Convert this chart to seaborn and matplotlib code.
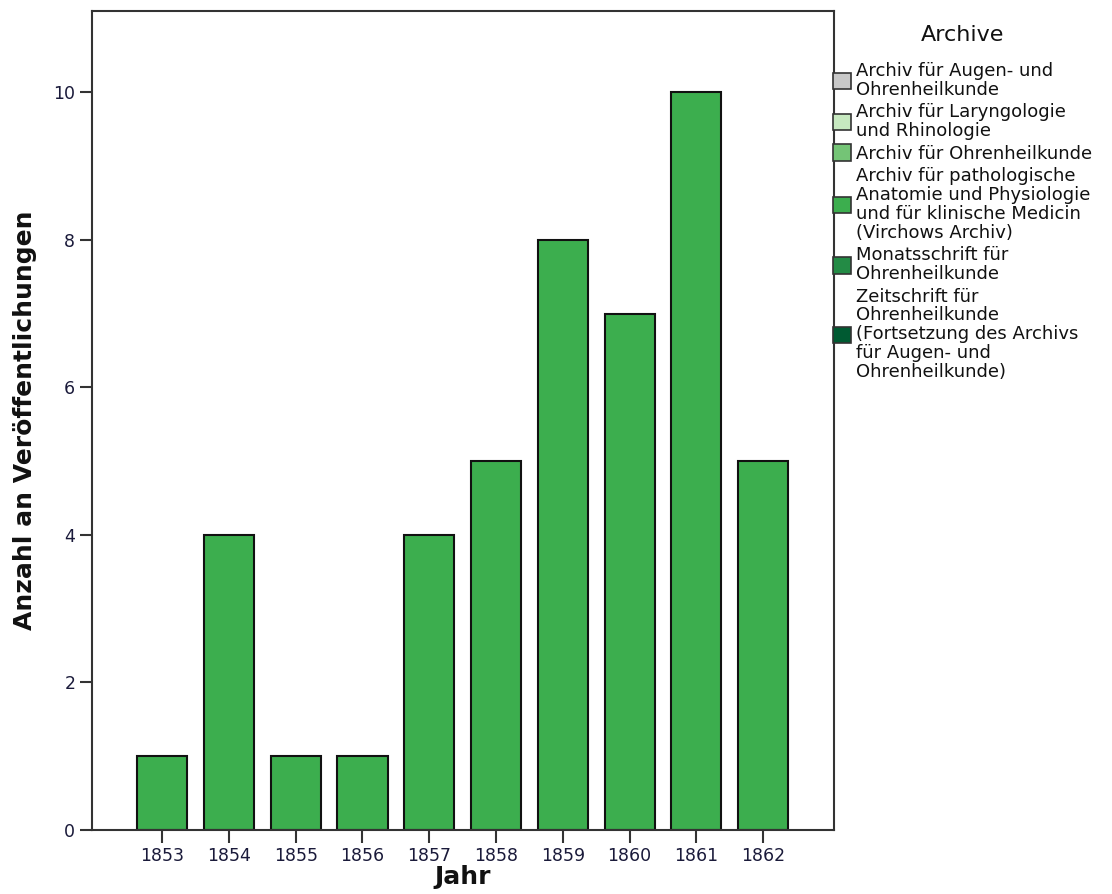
import matplotlib
matplotlib.use("Agg")
import matplotlib.pyplot as plt
import seaborn as sns
import pandas as pd
from matplotlib.patches import Patch

# data
years = ["1853", "1854", "1855", "1856", "1857", "1858", "1859", "1860", "1861", "1862"]
counts = [1, 4, 1, 1, 4, 5, 8, 7, 10, 5]

archive_labels = [
    "Archiv für Augen- und\nOhrenheilkunde",
    "Archiv für Laryngologie\nund Rhinologie",
    "Archiv für Ohrenheilkunde",
    "Archiv für pathologische\nAnatomie und Physiologie\nund für klinische Medicin\n(Virchows Archiv)",
    "Monatsschrift für\nOhrenheilkunde",
    "Zeitschrift für\nOhrenheilkunde\n(Fortsetzung des Archivs\nfür Augen- und\nOhrenheilkunde)",
]
archive_colors = ["#c8c8c8", "#c7e9c0", "#74c476", "#3cae4e", "#238b45", "#005a32"]

df = pd.DataFrame({"Jahr": years, "Anzahl": counts})

sns.set_style("white")
plt.rcParams["font.family"] = ["DejaVu Sans"]

fig = plt.figure(figsize=(11.12, 8.94), dpi=100)
ax = fig.add_axes([0.0827, 0.0716, 0.6673, 0.9161])

sns.barplot(data=df, x="Jahr", y="Anzahl", color=archive_colors[3], saturation=1,
            width=0.75, edgecolor="#111111", linewidth=1.5, ax=ax)

ax.set_xlim(-1.05, 10.06)
ax.set_ylim(0, 11.1)
ax.set_yticks([0, 2, 4, 6, 8, 10])
ax.tick_params(axis="both", which="both", direction="out", length=9, width=1.5,
               color="#333333", labelsize=12.5, labelcolor="#1a1a3a",
               left=True, bottom=True, pad=3)
for s in ax.spines.values():
    s.set_color("#333333")
    s.set_linewidth(1.5)

ax.set_xlabel("Jahr", fontsize=18, fontweight="bold", labelpad=0, color="#111111")
ax.set_ylabel("Anzahl an Veröffentlichungen", fontsize=18, fontweight="bold",
              labelpad=12, color="#111111")

handles = [Patch(facecolor=c, edgecolor="#333333", linewidth=1.2) for c in archive_colors]
leg = fig.legend(handles, archive_labels, title="Archive", loc="upper left",
                 bbox_to_anchor=(0.749, 0.972), frameon=False, fontsize=13,
                 title_fontsize=16, handlelength=1.0, handleheight=1.0,
                 handletextpad=0.3, labelspacing=0.25, borderpad=0, borderaxespad=0)
leg._legend_box.sep = 12
for t in leg.get_texts():
    t.set_linespacing(1.06)
    t.set_color("#111111")
leg.get_title().set_color("#111111")

fig.savefig("out.png", dpi=100)
